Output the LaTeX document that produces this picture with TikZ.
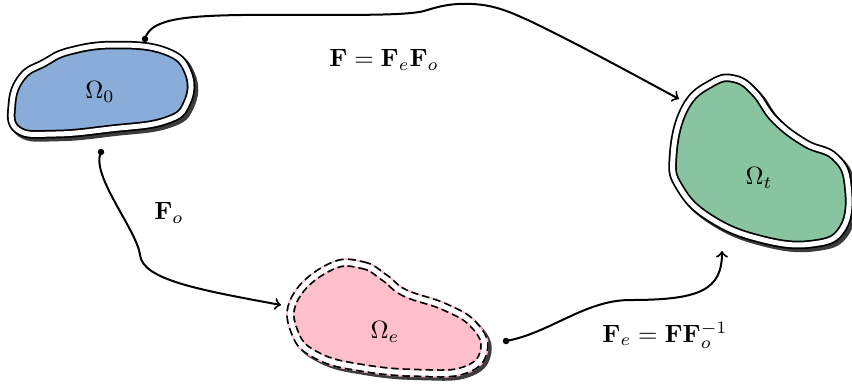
\documentclass[tikz,border=0pt]{standalone}
\definecolor{blobblue}{RGB}{138,172,216}
\definecolor{blobgreen}{RGB}{136,196,160}
\definecolor{blobpink}{RGB}{255,192,203}
\definecolor{shadowgray}{RGB}{60,60,60}
\newcommand\blobOmegaZero[1]{\path[#1] plot[smooth cycle, tension=0.75] coordinates {(12,104) (22,77) (44,63) (70,51) (115,45) (165,51) (188,72) (187,103) (165,121) (110,129) (55,134) (18,130)};}
\newcommand\blobOmegaT[1]{\path[#1] plot[smooth cycle, tension=0.75] coordinates {(673,157) (685,108) (712,83) (735,79) (755,93) (775,120) (805,143) (835,157) (848,185) (843,228) (812,244) (760,239) (710,218) (680,188)};}
\newcommand\blobOmegaE[1]{\path[#1] plot[smooth cycle, tension=0.75] coordinates {(330,267) (362,265) (385,278) (405,293) (445,307) (474,325) (484,350) (465,370) (420,373) (363,368) (318,356) (295,333) (295,298)};}
\tikzset{
  solidblob/.style={draw=black, line width=0.7pt, double=white, double distance=2pt},
  blobshadow/.style={fill=shadowgray, draw=shadowgray, line width=3.4pt},
  conn/.style={line width=0.8pt, ->},
  dotmark/.style={circle, fill=black, inner sep=0pt, minimum size=2.6pt},
  lbl/.style={inner sep=1pt}
}
\begin{document}
\begin{tikzpicture}[x=0.4pt,y=-0.4pt]
\useasboundingbox (0,0) rectangle (852,383);
% Omega_0
\begin{scope}[shift={(3,3)}]\blobOmegaZero{blobshadow}\end{scope}
\blobOmegaZero{fill=blobblue, solidblob}
\node[lbl] (o0) at (100,92) {$\Omega_0$};
% Omega_t
\begin{scope}[shift={(3,3)}]\blobOmegaT{blobshadow}\end{scope}
\blobOmegaT{fill=blobgreen, solidblob}
\node[lbl] (ot) at (759,178) {$\Omega_t$};
% Omega_e
\begin{scope}[shift={(3,3)}]\blobOmegaE{blobshadow}\end{scope}
\blobOmegaE{fill=blobpink, draw=blobpink, line width=3.4pt}
\blobOmegaE{draw=black, line width=3.4pt, dash pattern=on 3pt off 1.6pt}
\blobOmegaE{draw=white, line width=2pt}
\node[lbl] (oe) at (385,332) {$\Omega_e$};
% connector endpoints
\node[dotmark] (s1) at (145,39) {};
\node[dotmark] (s2) at (101,152) {};
\node[dotmark] (s3) at (506,341) {};
\coordinate (e1) at (679,99);
\coordinate (e2) at (281,305);
\coordinate (e3) at (722,251);
% connectors
\draw[conn] (s1.center) .. controls (150,20) and (180,16) .. (240,15)
  .. controls (320,14) and (400,17) .. (424,11)
  .. controls (440,6) and (452,3) .. (472,4)
  .. controls (495,5) and (510,12) .. (530,21)
  .. controls (580,45) and (640,78) .. (e1);
\draw[conn] (s2.center) .. controls (90,175) and (137,230) .. (140,255)
  .. controls (143,280) and (200,290) .. (e2);
\draw[conn] (s3.center) .. controls (550,333) and (585,300) .. (630,300)
  .. controls (700,300) and (722,290) .. (e3);
% labels
\node[lbl] (lF) at (384,60) {$\mathbf{F}=\mathbf{F}_e\mathbf{F}_o$};
\node[lbl] (lFo) at (169,213) {$\mathbf{F}_o$};
\node[lbl] (lFe) at (665,335) {$\mathbf{F}_e=\mathbf{F}\mathbf{F}_o^{-1}$};
\end{tikzpicture}
\end{document}
